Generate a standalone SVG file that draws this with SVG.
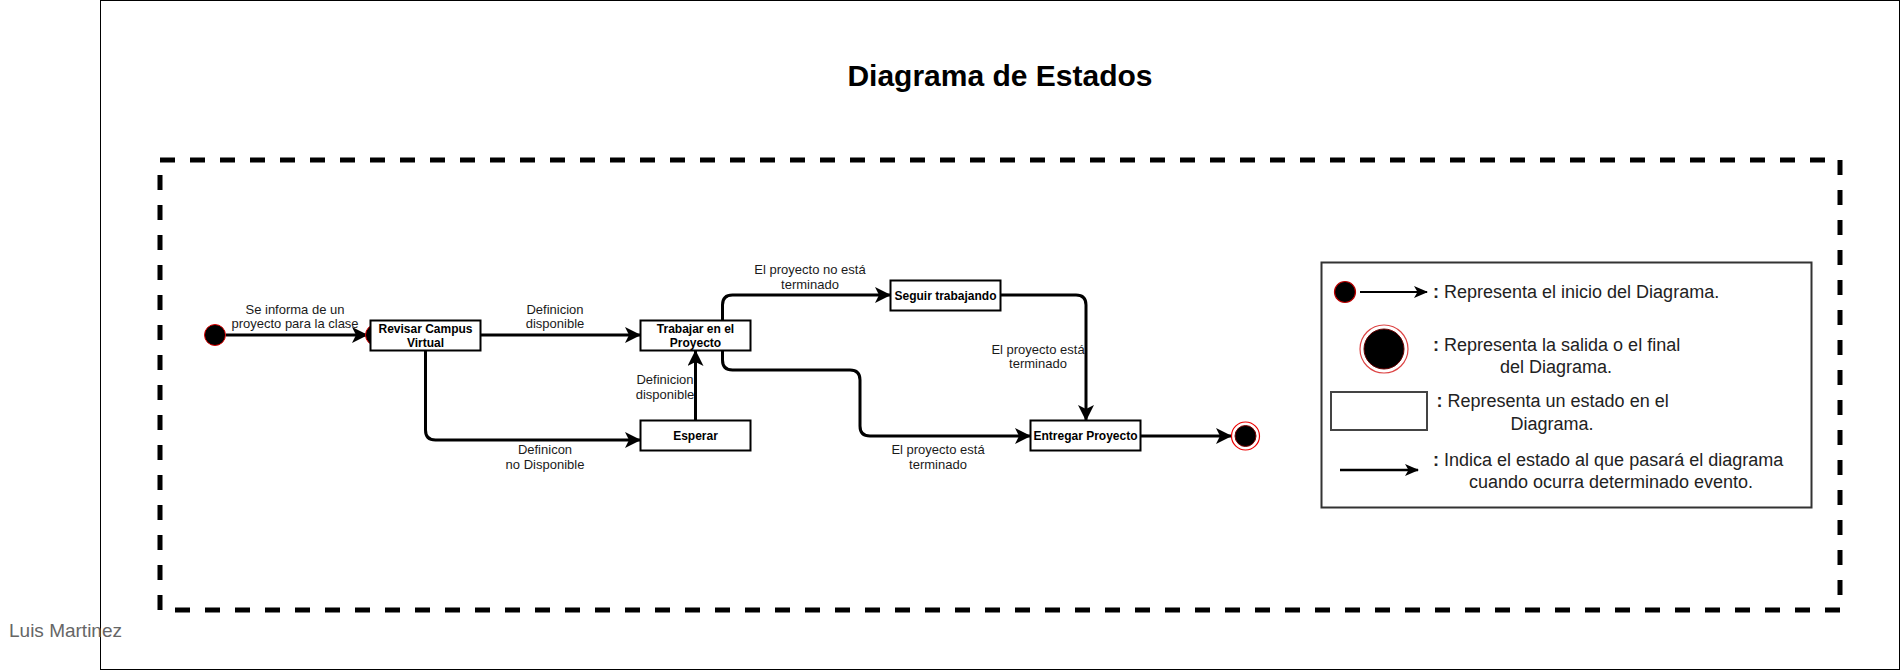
<svg xmlns="http://www.w3.org/2000/svg" width="1901" height="671" viewBox="0 0 1901 671">
<style>
text{font-family:"Liberation Sans",Arial,Helvetica,sans-serif;}
.st rect{fill:#fff;stroke:#000;stroke-width:2;}
.st text{font-size:12px;font-weight:bold;text-anchor:middle;fill:#000;}
.edge{fill:none;stroke:#000;stroke-width:3;stroke-linejoin:round;marker-end:url(#arr);}
.lbl{font-size:13px;text-anchor:middle;fill:#1a1a1a;}
.lg{font-size:18px;fill:#222;}
.lgm{font-size:18px;fill:#222;text-anchor:middle;}
.b{font-weight:bold;}
</style>
<defs>
<marker id="arr" viewBox="0 0 16 16" refX="15" refY="8" markerWidth="16" markerHeight="16" markerUnits="userSpaceOnUse" orient="auto">
<path d="M0,0 L16,8 L0,16 L4,8 Z" fill="#000"/>
</marker>
<marker id="arrS" viewBox="0 0 14 12" refX="13" refY="6" markerWidth="14" markerHeight="12" markerUnits="userSpaceOnUse" orient="auto">
<path d="M0,0 L14,6 L0,12 L3.5,6 Z" fill="#000"/>
</marker>
</defs>
<rect x="0" y="0" width="1901" height="671" fill="#fff"/>
<rect id="frame" x="100.5" y="0.5" width="1799" height="669" fill="none" stroke="#000" stroke-width="1"/>
<text id="author" x="9" y="637" font-size="19" fill="#666">Luis Martinez</text>
<text id="title" x="1000" y="86" font-size="30" font-weight="bold" text-anchor="middle" fill="#000">Diagrama de Estados</text>
<rect id="boundary" x="160" y="160" width="1680" height="450" fill="none" stroke="#000" stroke-width="5" stroke-dasharray="15 15"/>

<g id="connectors">
<path class="edge" d="M226,335 L367,335"/>
<path class="edge" d="M481,335 L640,335"/>
<path class="edge" d="M425.5,351 L425.5,430 Q425.5,440 435.5,440 L640,440"/>
<path class="edge" d="M695.5,420 L695.5,351"/>
<path class="edge" d="M722.5,320 L722.5,305 Q722.5,295 732.5,295 L890,295"/>
<path class="edge" d="M1001,295 L1076,295 Q1086,295 1086,305 L1086,420"/>
<path class="edge" d="M722.5,351 L722.5,360 Q722.5,370 732.5,370 L850,370 Q860,370 860,380 L860,426 Q860,436 870,436 L1030,436"/>
<path class="edge" d="M1141,436 L1231,436"/>
<text class="lbl" x="295" y="314">Se informa de un</text>
<text class="lbl" x="295" y="328">proyecto para la clase</text>
<text class="lbl" x="555" y="314">Definicion</text>
<text class="lbl" x="555" y="328">disponible</text>
<text class="lbl" x="545" y="454">Definicon</text>
<text class="lbl" x="545" y="468.5">no Disponible</text>
<text class="lbl" x="665" y="384">Definicion</text>
<text class="lbl" x="665" y="398.5">disponible</text>
<text class="lbl" x="810" y="274">El proyecto no está</text>
<text class="lbl" x="810" y="289">terminado</text>
<text class="lbl" x="1038" y="353.5">El proyecto está</text>
<text class="lbl" x="1038" y="368">terminado</text>
<text class="lbl" x="938" y="454">El proyecto está</text>
<text class="lbl" x="938" y="469">terminado</text>
</g>

<g id="start">
<circle cx="215" cy="335" r="10.5" fill="#000" stroke="#d00" stroke-width="1"/>
</g>
<g id="revisar" class="st">
<circle cx="376" cy="335" r="10.5" fill="#000" stroke="#d00" stroke-width="1"/>
<rect x="370.5" y="320.5" width="110" height="30"/>
<text x="425.5" y="333">Revisar Campus</text>
<text x="425.5" y="347">Virtual</text>
</g>
<g id="trabajar" class="st">
<rect x="640.5" y="320.5" width="110" height="30"/>
<text x="695.5" y="333">Trabajar en el</text>
<text x="695.5" y="347">Proyecto</text>
</g>
<g id="esperar" class="st">
<rect x="640.5" y="420.5" width="110" height="30"/>
<text x="695.5" y="440">Esperar</text>
</g>
<g id="seguir" class="st">
<rect x="890.5" y="280.5" width="110" height="30"/>
<text x="945.5" y="300">Seguir trabajando</text>
</g>
<g id="entregar" class="st">
<rect x="1030.5" y="420.5" width="110" height="30"/>
<text x="1085.5" y="440">Entregar Proyecto</text>
</g>
<g id="end">
<circle cx="1245.5" cy="436" r="14" fill="#fff" stroke="#e00" stroke-width="1.2"/>
<circle cx="1245.5" cy="436" r="10.5" fill="#000" stroke="#700" stroke-width="1"/>
</g>

<g id="legend">
<rect x="1321.5" y="262.5" width="490" height="245" fill="#fff" stroke="#333" stroke-width="2"/>
<circle cx="1345" cy="292" r="10.5" fill="#000" stroke="#b00" stroke-width="1.2"/>
<path d="M1360,292 L1427,292" stroke="#000" stroke-width="2" fill="none" marker-end="url(#arrS)"/>
<text class="lg" x="1433" y="298"><tspan class="b">:</tspan> Representa el inicio del Diagrama.</text>
<circle cx="1384" cy="349" r="24" fill="#fff" stroke="#d44" stroke-width="1.2"/>
<circle cx="1384" cy="349" r="20" fill="#000" stroke="#600" stroke-width="1"/>
<text class="lg" x="1433" y="350.5"><tspan class="b">:</tspan> Representa la salida o el final</text>
<text class="lgm" x="1556" y="373">del Diagrama.</text>
<rect x="1331" y="392" width="96" height="38" fill="#fff" stroke="#444" stroke-width="2"/>
<text class="lg" x="1436.5" y="407"><tspan class="b">:</tspan> Representa un estado en el</text>
<text class="lgm" x="1552" y="429.5">Diagrama.</text>
<path d="M1340,470 L1418,470" stroke="#000" stroke-width="2.5" fill="none" marker-end="url(#arrS)"/>
<text class="lg" x="1433" y="466"><tspan class="b">:</tspan> Indica el estado al que pasará el diagrama</text>
<text class="lgm" x="1611" y="488">cuando ocurra determinado evento.</text>
</g>
</svg>
